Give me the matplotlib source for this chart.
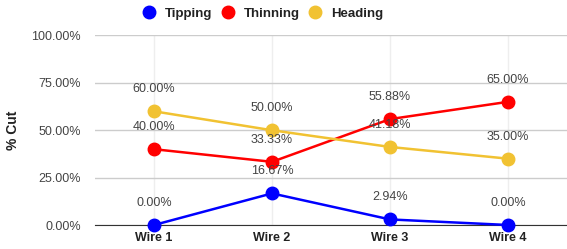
import matplotlib.pyplot as plt
from matplotlib.ticker import PercentFormatter

plt.rcParams['font.family'] = ['Liberation Sans', 'DejaVu Sans']

# datos
wires = ['Wire 1', 'Wire 2', 'Wire 3', 'Wire 4']
tipping = [0.0, 16.67, 2.94, 0.0]
thinning = [40.0, 33.33, 55.88, 65.0]
heading = [60.0, 50.0, 41.18, 35.0]

series = [('Tipping', tipping, '#0000ff'),
          ('Thinning', thinning, '#ff0000'),
          ('Heading', heading, '#f1c232')]

fig = plt.figure(figsize=(5.67, 2.49), dpi=100)
ax = fig.add_axes([95 / 567, 24 / 249, 472 / 567, 189.5 / 249])

x = list(range(len(wires)))
for name, vals, color in series:
    ax.plot(x, vals, color=color, lw=1.8, marker='o', ms=9, label=name, zorder=3,
            clip_on=False)
    for xi, v in zip(x, vals):
        ax.annotate(f'{v:.2f}%', (xi, v), xytext=(0, 22), textcoords='offset pixels',
                    ha='center', va='center', fontsize=9, color='#444444', zorder=4)

ax.set_xlim(-0.5, 3.5)
ax.set_ylim(0, 100)
ax.set_yticks([0, 25, 50, 75, 100])
ax.yaxis.set_major_formatter(PercentFormatter(decimals=2))
ax.set_xticks(x)
ax.set_xticklabels(wires, fontweight='bold', fontsize=9, color='#222222')
ax.tick_params(axis='y', labelsize=9, labelcolor='#444444', length=0, pad=10)
ax.tick_params(axis='x', length=0, pad=5)
ax.grid(axis='y', color='#cccccc', lw=1)
ax.grid(axis='x', color='#eeeeee', lw=1)
ax.set_axisbelow(True)
for s in ['top', 'right', 'left']:
    ax.spines[s].set_visible(False)
ax.spines['bottom'].set_color('#333333')
ax.set_ylabel('% Cut', fontweight='bold', fontsize=10, color='#222222')
ax.yaxis.set_label_coords((20 - 95) / 472, 0.5)

ax.legend(loc='center', bbox_to_anchor=((264 - 95) / 472, (249 - 14 - 24) / 189.5), ncol=3,
          frameon=False, handlelength=0.6, handletextpad=0.9, columnspacing=0.9,
          prop={'weight': 'bold', 'size': 9.5}, labelcolor='#222222',
          markerscale=1.0)
leg = ax.get_legend()
for h in leg.legend_handles:
    h.set_linestyle('none')

fig.savefig('out.png', dpi=100)
